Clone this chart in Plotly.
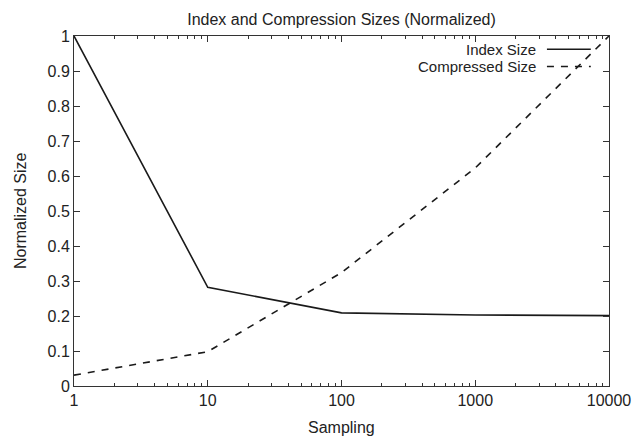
import plotly.graph_objects as go

sampling = [1, 10, 100, 1000, 10000]
index_size = [1.0, 0.282, 0.209, 0.203, 0.201]
compressed_size = [0.031, 0.098, 0.324, 0.623, 1.0]
series_names = ["Index Size", "Compressed Size"]
x_ticks = [1, 10, 100, 1000, 10000]
x_tick_labels = ["1", "10", "100", "1000", "10000"]
y_ticks = [0, 0.1, 0.2, 0.3, 0.4, 0.5, 0.6, 0.7, 0.8, 0.9, 1]
y_tick_labels = ["0", "0.1", "0.2", "0.3", "0.4", "0.5", "0.6", "0.7", "0.8", "0.9", "1"]

FONT = "Liberation Sans"
FS = 16
TXT = "#222222"
fig = go.Figure()
fig.add_trace(go.Scatter(x=sampling, y=index_size, mode="lines", name=series_names[0],
                         line=dict(color="#1a1a1a", width=1.6, dash="solid"), showlegend=False))
fig.add_trace(go.Scatter(x=sampling, y=compressed_size, mode="lines", name=series_names[1],
                         line=dict(color="#1a1a1a", width=1.6, dash="7px,7px"), showlegend=False))

axis_common = dict(showgrid=False, zeroline=False, showline=True, linecolor="#333333",
                   linewidth=1, mirror="allticks", ticks="inside", tickcolor="#333333",
                   ticklen=6, automargin=False,
                   tickfont=dict(family=FONT, size=FS, color=TXT))
fig.update_xaxes(type="log", range=[0, 4], tickvals=x_ticks, ticktext=x_tick_labels,
                 minor=dict(ticks="inside", ticklen=3, dtick="D1", tickcolor="#333333", showgrid=False),
                 **axis_common)
fig.update_yaxes(range=[0, 1], tickvals=y_ticks, ticktext=y_tick_labels, **axis_common)

# axis titles
fig.add_annotation(x=0.5, y=0, xref="paper", yref="paper", yshift=-41, text="Sampling", showarrow=False,
                   xanchor="center", yanchor="middle", font=dict(family=FONT, size=FS, color=TXT))
fig.add_annotation(x=0, y=0.5, xref="paper", yref="paper", xshift=-54, text="Normalized Size", showarrow=False,
                   textangle=-90, xanchor="center", yanchor="middle", font=dict(family=FONT, size=FS, color=TXT))

# legend (gnuplot style: text then sample on right)
legend_y = [0.962, 0.913]
dashes = ["solid", "7px,7px"]
for name, yy, d in zip(series_names, legend_y, dashes):
    fig.add_annotation(x=0.865, y=yy, xref="paper", yref="paper", text=name, showarrow=False,
                       xanchor="right", yanchor="middle", borderpad=0,
                       font=dict(family=FONT, size=15, color=TXT))
    fig.add_shape(type="line", xref="paper", yref="paper", x0=0.884, x1=0.966, y0=yy, y1=yy,
                  line=dict(color="#1a1a1a", width=1.6, dash=d))

fig.update_layout(
    width=644, height=436,
    margin=dict(l=74, r=35, t=36, b=50, autoexpand=False),
    paper_bgcolor="white", plot_bgcolor="white",
    title=dict(text="Index and Compression Sizes (Normalized)", x=0.5, xref="paper",
               y=1 - 19 / 436, yanchor="middle", font=dict(family=FONT, size=FS, color=TXT)),
    showlegend=False,
)
fig.write_html("out.html")
